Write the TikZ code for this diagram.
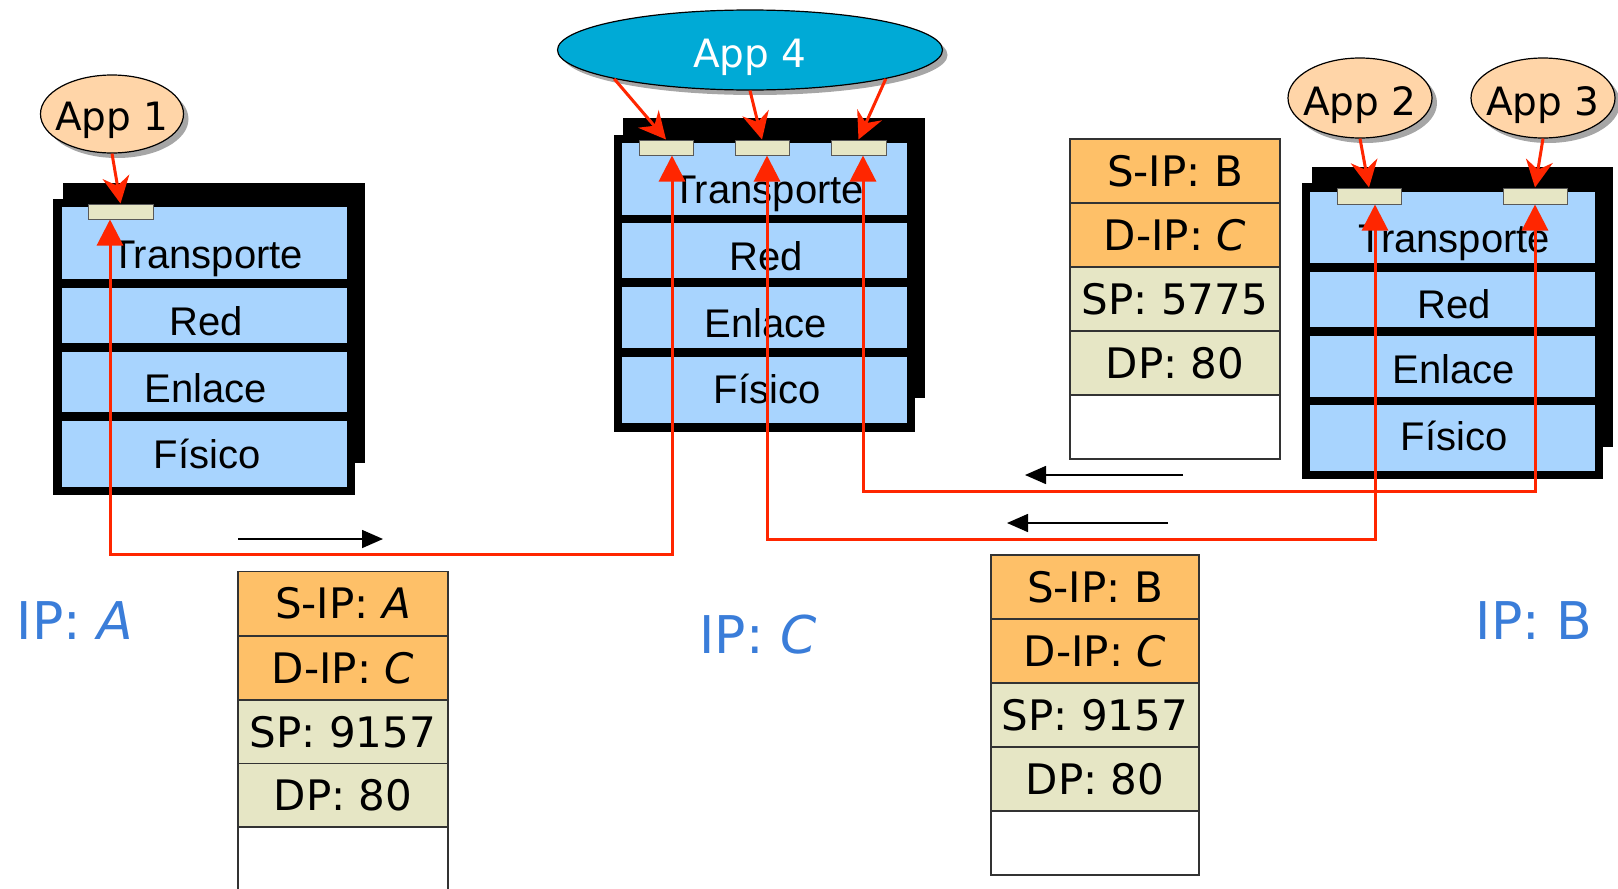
\documentclass[tikz,border=0pt]{standalone}
\usepackage{fontspec}
\setmainfont{Liberation Sans}
\newfontfamily\comicf{DejaVu Sans}
\usetikzlibrary{shapes.geometric,arrows.meta,shadows}
\definecolor{cellblue}{RGB}{168,212,254}
\definecolor{portbeige}{RGB}{230,230,197}
\definecolor{pkorange}{RGB}{254,192,104}
\definecolor{peach}{RGB}{255,213,168}
\definecolor{appfour}{RGB}{0,170,214}
\definecolor{redc}{RGB}{255,38,0}
\definecolor{ipblue}{RGB}{58,125,217}
\begin{document}
\begin{tikzpicture}[x=1pt,y=-1pt,
  cell/.style={rectangle,fill=cellblue,inner sep=0pt,minimum width=285pt},
  lbl/.style={anchor=base,inner sep=0pt,font=\fontsize{40}{40}\selectfont,text=black},
  port/.style={rectangle,fill=portbeige,draw=black!65,line width=1pt,inner sep=0pt},
  app/.style={ellipse,draw=black,line width=1.2pt,fill=peach,inner sep=0pt,text depth=0pt,
    font=\comicf\fontsize{39}{39}\selectfont,
    drop shadow={shadow xshift=5pt,shadow yshift=-5pt,opacity=0.35,fill=black}},
  pkhead/.style={rectangle,draw=black!80,line width=1.2pt,fill=pkorange,inner sep=0pt,
    minimum width=210pt,minimum height=64pt,font=\comicf\fontsize{42}{42}\selectfont},
  pkport/.style={pkhead,fill=portbeige},
  pkempty/.style={pkhead,fill=white},
  redline/.style={draw=redc,line width=3pt},
  updown/.style={redline,arrows={Triangle[length=26pt,width=26pt]-Triangle[length=26pt,width=26pt]}},
  apparrow/.style={redline,-{Stealth[length=27pt,width=27pt,inset=9pt]}},
  flow/.style={draw=black,line width=1.6pt,-{Triangle[length=21pt,width=18pt]}},
  iplbl/.style={text=ipblue,inner sep=0pt,font=\comicf\fontsize{52}{52}\selectfont}
]
\useasboundingbox[fill=white] (0,0) rectangle (1618,889);

% ---------- Host A stack ----------
\fill (63,183) rectangle (365,463);
\fill (53,199) rectangle (355,495);
\node[cell,minimum height=72pt] (aT) at (204.5,243) {};
\node[cell,minimum height=55pt] (aR) at (204.5,315.5) {};
\node[cell,minimum height=60pt] (aE) at (204.5,382) {};
\node[cell,minimum height=66pt] (aF) at (204.5,454) {};
\node[lbl] (aTt) at (207,268) {Transporte};
\node[lbl] (aRt) at (206,335) {Red};
\node[lbl] (aEt) at (206,402) {Enlace};
\node[lbl] (aFt) at (207,468) {Físico};
\node[port,minimum width=65pt,minimum height=15pt] (pA) at (120.5,211.5) {};

% ---------- Host C stack ----------
\fill (623,118) rectangle (925,398);
\fill (614,135) rectangle (915,432);
\node[cell,minimum height=72pt] (cT) at (764.5,179) {};
\node[cell,minimum height=55pt] (cR) at (764.5,250.5) {};
\node[cell,minimum height=61pt] (cE) at (764.5,317.5) {};
\node[cell,minimum height=66pt] (cF) at (764.5,390) {};
\node[lbl] (cTt) at (768,203) {Transporte};
\node[lbl] (cRt) at (766,270) {Red};
\node[lbl] (cEt) at (766,337) {Enlace};
\node[lbl] (cFt) at (767,403) {Físico};
\node[port,minimum width=54pt,minimum height=15pt] (pC1) at (666,147.5) {};
\node[port,minimum width=54pt,minimum height=15pt] (pC2) at (762,147.5) {};
\node[port,minimum width=55pt,minimum height=15pt] (pC3) at (858.5,147.5) {};

% ---------- Host B stack ----------
\fill (1312,167) rectangle (1613,447);
\fill (1302,183) rectangle (1603,479);
\node[cell,minimum height=71pt] (bT) at (1452.5,227.5) {};
\node[cell,minimum height=55pt] (bR) at (1452.5,299.5) {};
\node[cell,minimum height=61pt] (bE) at (1452.5,366.5) {};
\node[cell,minimum height=66pt] (bF) at (1452.5,438) {};
\node[lbl] (bTt) at (1454,252) {Transporte};
\node[lbl] (bRt) at (1454,318) {Red};
\node[lbl] (bEt) at (1454,383) {Enlace};
\node[lbl] (bFt) at (1454,450) {Físico};
\node[port,minimum width=64pt,minimum height=16pt] (pB1) at (1369,196) {};
\node[port,minimum width=64pt,minimum height=16pt] (pB2) at (1535,196) {};

% ---------- Applications ----------
\node[app,minimum width=143pt,minimum height=78pt] (app1) at (112,114) {\raisebox{-5pt}{\makebox[0pt]{App 1}}};
\node[app,minimum width=385pt,minimum height=80pt,fill=appfour,text=white] (app4) at (750,50) {\raisebox{-6pt}{\makebox[0pt]{App 4}}};
\node[app,minimum width=144pt,minimum height=80pt] (app2) at (1360,98) {\raisebox{-6pt}{\makebox[0pt]{App 2}}};
\node[app,minimum width=144pt,minimum height=80pt] (app3) at (1543,98) {\raisebox{-6pt}{\makebox[0pt]{App 3}}};

% ---------- App to port arrows ----------
\draw[apparrow] (app1.south) -- (pA.north);
\draw[apparrow] (app4.-168) -- (pC1.north);
\draw[apparrow] (app4.south) -- (pC2.north);
\draw[apparrow] (app4.-12) -- (pC3.north);
\draw[apparrow] (app2.south) -- (pB1.north);
\draw[apparrow] (app3.south) -- (pB2.north);

% ---------- Red transport paths ----------
\coordinate (bus1) at (400,554);
\coordinate (bus2) at (1000,539);
\coordinate (bus3) at (1000,491);
\draw[updown] ([xshift=-10.5pt]pA.south) |- (bus1) -| ([xshift=6pt]pC1.south);
\draw[updown] ([xshift=5pt]pC2.south) |- (bus2) -| ([xshift=6pt]pB1.south);
\draw[updown] ([xshift=4.5pt]pC3.south) |- (bus3) -| (pB2.south);

% ---------- Direction arrows ----------
\coordinate (f1s) at (238,539); \coordinate (f1e) at (383,539);
\coordinate (f2s) at (1183,475); \coordinate (f2e) at (1025,475);
\coordinate (f3s) at (1168,523); \coordinate (f3e) at (1007,523);
\draw[flow] (f1s) -- (f1e);
\draw[flow] (f2s) -- (f2e);
\draw[flow] (f3s) -- (f3e);

% ---------- Packet A -> C ----------
\node[pkhead] (k1a) at (343,603.5) {S-IP: \textit{A}};
\node[pkhead] (k1b) at (343,668) {D-IP: \textit{C}};
\node[pkport] (k1c) at (343,732) {SP: 9157};
\node[pkport] (k1d) at (343,795.5) {DP: 80};
\node[pkempty,minimum height=70pt] (k1e) at (343,862) {};

% ---------- Packet B -> C (top) ----------
\node[pkhead] (k2a) at (1175,171) {S-IP: B};
\node[pkhead] (k2b) at (1175,235) {D-IP: \textit{C}};
\node[pkport] (k2c) at (1175,299) {SP: 5775};
\node[pkport] (k2d) at (1175,363) {DP: 80};
\node[pkempty] (k2e) at (1175,427) {};

% ---------- Packet B -> C (bottom) ----------
\node[pkhead,minimum width=208pt] (k3a) at (1095,587) {S-IP: B};
\node[pkhead,minimum width=208pt] (k3b) at (1095,651) {D-IP: \textit{C}};
\node[pkport,minimum width=208pt] (k3c) at (1095,715) {SP: 9157};
\node[pkport,minimum width=208pt] (k3d) at (1095,779) {DP: 80};
\node[pkempty,minimum width=208pt] (k3e) at (1095,843) {};

% ---------- IP labels ----------
\node[iplbl] (ipA) at (75,621) {IP: \textit{A}};
\node[iplbl] (ipC) at (758,635) {IP: \textit{C}};
\node[iplbl] (ipB) at (1534,621) {IP: B};
\end{tikzpicture}
\end{document}
